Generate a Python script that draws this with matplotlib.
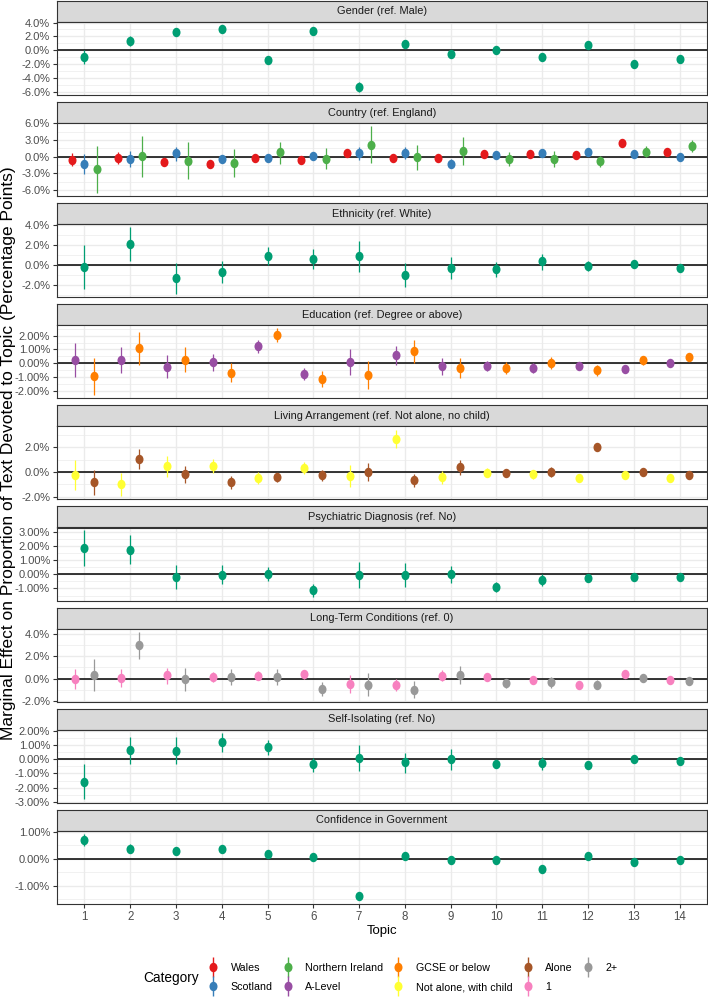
import matplotlib
matplotlib.use("Agg")
import matplotlib.pyplot as plt
from matplotlib.lines import Line2D
from matplotlib.legend_handler import HandlerTuple
from matplotlib.ticker import FixedLocator, FuncFormatter
from matplotlib.path import Path
from matplotlib.transforms import Affine2D

plt.rcParams["font.family"] = ["Liberation Sans", "DejaVu Sans"]

TOPICS = list(range(1, 15))

# -------------------- data (percentage points): estimate, lower, upper
GENDER_EST = [-1.0, 1.3, 2.7, 3.1, -1.45, 2.85, -5.3, 0.95, -0.5, 0.1, -0.9, 0.7, -2.0, -1.25]
GENDER_LO = [-2.0, 0.6, 2.3, 2.6, -1.9, 2.4, -5.95, 0.5, -0.9, -0.3, -1.3, 0.3, -2.4, -1.6]
GENDER_HI = [0.0, 2.0, 3.1, 3.6, -1.0, 3.3, -4.6, 1.4, -0.1, 0.5, -0.5, 1.1, -1.6, -0.9]

WALES_EST = [-0.54, -0.2, -1.0, -1.3, -0.3, -0.6, 0.66, -0.3, -0.3, 0.4, 0.5, 0.24, 2.47, 0.84]
WALES_LO = [-1.7, -1.3, -1.7, -1.8, -0.8, -1.1, -0.06, -0.8, -0.8, -0.1, -0.05, -0.25, 1.85, 0.3]
WALES_HI = [0.6, 0.9, -0.3, -0.9, 0.2, -0.1, 1.3, 0.2, 0.15, 0.9, 1.1, 0.72, 3.1, 1.4]
SCOT_EST = [-1.27, -0.36, 0.7, -0.4, -0.25, 0.2, 0.7, 0.7, -1.27, 0.3, 0.6, 0.84, 0.5, -0.12]
SCOT_LO = [-3.2, -1.9, -0.7, -1.1, -0.8, -0.36, -0.6, -0.36, -2.0, -0.3, -0.1, 0.2, -0.05, -0.55]
SCOT_HI = [0.5, 1.0, 1.8, 0.3, 0.3, 0.65, 1.8, 1.7, -0.5, 0.9, 1.3, 1.45, 1.05, 0.3]
NI_EST = [-2.3, 0.1, -0.8, -1.1, 0.8, -0.35, 2.2, -0.06, 1.0, -0.4, -0.4, -0.8, 0.9, 1.93]
NI_LO = [-6.5, -3.6, -4.1, -3.6, -1.3, -2.3, -1.1, -2.4, -1.5, -1.7, -1.9, -1.8, -0.06, 0.9]
NI_HI = [2.0, 3.7, 2.6, 1.3, 2.7, 1.5, 5.5, 2.2, 3.6, 0.9, 1.1, 0.2, 1.9, 2.95]

ETHN_EST = [-0.2, 2.1, -1.37, -0.77, 0.87, 0.6, 0.83, -1.03, -0.33, -0.43, 0.33, -0.17, 0.1, -0.37]
ETHN_LO = [-2.4, 0.4, -2.93, -1.83, -0.03, -0.43, -0.73, -2.27, -1.47, -1.2, -0.5, -0.67, -0.23, -0.67]
ETHN_HI = [1.93, 3.77, 0.17, 0.33, 1.77, 1.53, 2.37, 0.17, 0.77, 0.27, 1.1, 0.33, 0.43, -0.07]

ALEVEL_EST = [0.22, 0.24, -0.27, 0.1, 1.24, -0.78, 0.12, 0.63, -0.22, -0.22, -0.36, -0.2, -0.44, 0.02]
ALEVEL_LO = [-1.0, -0.68, -1.1, -0.53, 0.73, -1.24, -0.82, -0.1, -0.87, -0.53, -0.73, -0.5, -0.68, -0.22]
ALEVEL_HI = [1.45, 1.16, 0.58, 0.65, 1.72, -0.36, 1.0, 1.28, 0.39, 0.14, 0.0, 0.1, -0.2, 0.24]
GCSE_EST = [-0.95, 1.09, 0.27, -0.7, 2.04, -1.14, -0.82, 0.87, -0.36, -0.34, 0.02, -0.5, 0.2, 0.44]
GCSE_LO = [-2.28, -0.1, -0.63, -1.4, 1.53, -1.75, -1.84, 0.0, -1.1, -0.75, -0.44, -0.9, -0.1, 0.2]
GCSE_HI = [0.39, 2.28, 1.19, 0.0, 2.57, -0.58, 0.19, 1.7, 0.39, 0.07, 0.46, -0.12, 0.5, 0.68]

WITHCHILD_EST = [-0.27, -1.0, 0.46, 0.49, -0.49, 0.3, -0.32, 2.7, -0.43, -0.05, -0.19, -0.46, -0.24, -0.51]
WITHCHILD_LO = [-1.49, -1.95, -0.4, -0.05, -0.95, -0.19, -1.24, 1.97, -0.95, -0.4, -0.57, -0.7, -0.51, -0.73]
WITHCHILD_HI = [0.95, -0.1, 1.3, 1.03, 0.0, 0.78, 0.54, 3.43, 0.05, 0.3, 0.19, -0.22, 0.03, -0.3]
ALONE_EST = [-0.84, 1.05, -0.19, -0.81, -0.43, -0.27, 0.0, -0.65, 0.38, -0.05, 0.0, 2.03, -0.03, -0.27]
ALONE_LO = [-1.84, 0.27, -0.86, -1.35, -0.81, -0.7, -0.73, -1.22, -0.24, -0.32, -0.38, 1.78, -0.3, -0.51]
ALONE_HI = [0.16, 1.84, 0.49, -0.3, -0.05, 0.19, 0.73, -0.16, 0.95, 0.22, 0.38, 2.27, 0.24, -0.03]

PSYCH_EST = [1.86, 1.74, -0.16, -0.02, 0.02, -1.13, -0.07, -0.05, 0.0, -0.89, -0.4, -0.26, -0.16, -0.21]
PSYCH_LO = [0.56, 0.7, -1.06, -0.66, -0.47, -1.6, -0.96, -0.87, -0.64, -1.27, -0.82, -0.52, -0.35, -0.45]
PSYCH_HI = [3.15, 2.78, 0.68, 0.64, 0.52, -0.68, 0.87, 0.8, 0.61, -0.54, 0.0, 0.0, 0.03, 0.02]

LTC1_EST = [0.0, 0.06, 0.3, 0.15, 0.27, 0.42, -0.45, -0.54, 0.27, 0.15, -0.15, -0.57, 0.39, -0.12]
LTC1_LO = [-0.93, -0.78, -0.45, -0.3, -0.12, 0.0, -1.25, -1.07, -0.24, -0.15, -0.51, -0.9, 0.06, -0.39]
LTC1_HI = [0.9, 0.87, 0.99, 0.6, 0.66, 0.81, 0.33, 0.0, 0.75, 0.45, 0.21, -0.24, 0.72, 0.15]
LTC2_EST = [0.33, 2.99, -0.06, 0.18, 0.18, -0.9, -0.54, -0.99, 0.36, -0.42, -0.33, -0.54, 0.06, -0.24]
LTC2_LO = [-1.13, 1.76, -1.13, -0.57, -0.54, -1.52, -1.52, -1.76, -0.45, -0.84, -0.84, -0.93, -0.24, -0.6]
LTC2_HI = [1.79, 4.18, 0.99, 0.87, 0.87, -0.3, 0.51, -0.24, 1.13, 0.0, 0.18, -0.15, 0.36, 0.12]

SELFISO_EST = [-1.61, 0.65, 0.58, 1.19, 0.87, -0.37, 0.09, -0.23, 0.0, -0.33, -0.26, -0.44, 0.0, -0.16]
SELFISO_LO = [-2.8, -0.33, -0.33, 0.51, 0.3, -0.91, -0.84, -0.94, -0.75, -0.63, -0.75, -0.68, -0.23, -0.4]
SELFISO_HI = [-0.37, 1.59, 1.54, 1.85, 1.38, 0.12, 1.0, 0.47, 0.73, -0.03, 0.19, -0.21, 0.23, 0.07]

CONF_EST = [0.68, 0.37, 0.28, 0.35, 0.17, 0.07, -1.38, 0.1, -0.05, -0.06, -0.37, 0.11, -0.14, -0.04]
CONF_LO = [0.46, 0.2, 0.14, 0.21, 0.05, -0.03, -1.52, -0.01, -0.15, -0.17, -0.48, 0.0, -0.25, -0.14]
CONF_HI = [0.91, 0.54, 0.42, 0.49, 0.29, 0.17, -1.24, 0.21, 0.05, 0.05, -0.26, 0.22, -0.03, 0.06]

# -------------------- colours
SINGLE = "#009E73"
COLORS = {
    "Wales": "#E41A1C",
    "Scotland": "#377EB8",
    "Northern Ireland": "#4DAF4A",
    "A-Level": "#984EA3",
    "GCSE or below": "#FF7F00",
    "Not alone, with child": "#FFFF33",
    "Alone": "#A65628",
    "1": "#F781BF",
    "2+": "#999999",
}

# title, series, y ticks, decimals, y limits
PANELS = [
    ("Gender (ref. Male)",
     [(None, GENDER_EST, GENDER_LO, GENDER_HI)],
     [4, 2, 0, -2, -4, -6], 1, (-6.45, 4.08)),
    ("Country (ref. England)",
     [("Wales", WALES_EST, WALES_LO, WALES_HI),
      ("Scotland", SCOT_EST, SCOT_LO, SCOT_HI),
      ("Northern Ireland", NI_EST, NI_LO, NI_HI)],
     [6, 3, 0, -3, -6], 1, (-7.13, 6.07)),
    ("Ethnicity (ref. White)",
     [(None, ETHN_EST, ETHN_LO, ETHN_HI)],
     [4, 2, 0, -2], 1, (-3.25, 4.05)),
    ("Education (ref. Degree or above)",
     [("A-Level", ALEVEL_EST, ALEVEL_LO, ALEVEL_HI),
      ("GCSE or below", GCSE_EST, GCSE_LO, GCSE_HI)],
     [2, 1, 0, -1, -2], 2, (-2.55, 2.76)),
    ("Living Arrangement (ref. Not alone, no child)",
     [("Not alone, with child", WITHCHILD_EST, WITHCHILD_LO, WITHCHILD_HI),
      ("Alone", ALONE_EST, ALONE_LO, ALONE_HI)],
     [2, 0, -2], 1, (-2.22, 3.7)),
    ("Psychiatric Diagnosis (ref. No)",
     [(None, PSYCH_EST, PSYCH_LO, PSYCH_HI)],
     [3, 2, 1, 0, -1], 2, (-1.85, 3.3)),
    ("Long-Term Conditions (ref. 0)",
     [("1", LTC1_EST, LTC1_LO, LTC1_HI),
      ("2+", LTC2_EST, LTC2_LO, LTC2_HI)],
     [4, 2, 0, -2], 1, (-2.06, 4.48)),
    ("Self-Isolating (ref. No)",
     [(None, SELFISO_EST, SELFISO_LO, SELFISO_HI)],
     [2, 1, 0, -1, -2, -3], 2, (-3.05, 2.07)),
    ("Confidence in Government",
     [(None, CONF_EST, CONF_LO, CONF_HI)],
     [1, 0, -1], 2, (-1.67, 1.03)),
]

LEGEND_ORDER = ["Wales", "Scotland", "Northern Ireland", "A-Level", "GCSE or below",
                "Not alone, with child", "Alone", "1", "2+"]

# -------------------- layout (pixels)
W, H = 708, 997
LEFT, RIGHT = 57, 707
STEP, STRIP_H, PANEL_H = 101.1, 21, 73
TXT = "#4D4D4D"
EDGE = "#333333"
GRID = "#EBEBEB"
TICK_FS = 8.0

# slightly tall dot, like the (stretched) original
DOT = Path.unit_circle().transformed(Affine2D().scale(0.85, 1.0))
DOT_MS = 6.8


def fy(px):
    return 1 - px / H


fig = plt.figure(figsize=(W / 100, H / 100), dpi=100)

n = len(PANELS)
for k, (title, series, yticks, dec, ylim) in enumerate(PANELS):
    s_top = 1 + STEP * k
    p_top = s_top + STRIP_H

    # strip
    sax = fig.add_axes([LEFT / W, fy(p_top), (RIGHT - LEFT) / W, STRIP_H / H])
    sax.set_facecolor("#D9D9D9")
    sax.set_xticks([])
    sax.set_yticks([])
    for sp in sax.spines.values():
        sp.set_color(EDGE)
        sp.set_linewidth(0.8)
    sax.text(0.5, 0.5, title, ha="center", va="center", fontsize=7.9,
             color="#1A1A1A", transform=sax.transAxes)

    # panel
    ax = fig.add_axes([LEFT / W, fy(p_top + PANEL_H), (RIGHT - LEFT) / W, PANEL_H / H])
    ax.set_xlim(0.4, 14.6)
    ax.set_ylim(*ylim)
    ax.set_axisbelow(True)
    ax.set_xticks(TOPICS)
    ax.yaxis.set_major_locator(FixedLocator(yticks))
    srt = sorted(yticks)
    step = srt[1] - srt[0]
    minors = [(a + b) / 2 for a, b in zip(srt[:-1], srt[1:])]
    minors += [srt[0] - step / 2, srt[-1] + step / 2]
    ax.yaxis.set_minor_locator(FixedLocator(minors))
    ax.yaxis.set_major_formatter(FuncFormatter(lambda v, p, d=dec: f"{v:.{d}f}%"))
    ax.grid(True, which="major", color=GRID, lw=1.0)
    ax.grid(True, which="minor", axis="y", color=GRID, lw=0.5)
    ax.tick_params(axis="y", which="major", length=2.75, width=0.8, color=EDGE,
                   labelsize=TICK_FS, labelcolor=TXT, pad=2.2)
    ax.tick_params(axis="y", which="minor", length=0)
    if k == n - 1:
        ax.tick_params(axis="x", length=2.75, width=0.8, color=EDGE,
                       labelsize=TICK_FS + 0.3, labelcolor=TXT, pad=2.6)
    else:
        ax.tick_params(axis="x", length=0, labelbottom=False)
    for sp in ax.spines.values():
        sp.set_color(EDGE)
        sp.set_linewidth(0.8)

    ax.axhline(0, color="black", lw=1.1, zorder=1.5)

    m = len(series)
    for i, (name, est, lo, hi) in enumerate(series):
        off = (i - (m - 1) / 2) * 0.8 / m
        xs = [t + off for t in TOPICS]
        c = SINGLE if name is None else COLORS[name]
        ax.vlines(xs, lo, hi, color=c, lw=0.9, zorder=3)
        ax.plot(xs, est, ls="", marker=DOT, color=c, ms=DOT_MS, mec="none", zorder=4)

# axis titles
fig.text(8.5 / W, fy(453), "Marginal Effect on Proportion of Text Devoted to Topic (Percentage Points)",
         rotation=90, ha="center", va="center", fontsize=12.5, color="black")
fig.text((LEFT + RIGHT) / 2 / W, fy(931), "Topic", ha="center", va="center", fontsize=9.5)

# legend
handles = [(Line2D([], [], marker="|", ms=14, mew=1.0, color=COLORS[c], ls=""),
            Line2D([], [], marker=DOT, ms=DOT_MS, mec="none", color=COLORS[c], ls=""))
           for c in LEGEND_ORDER]
fig.text(143 / W, fy(978), "Category", ha="left", va="center", fontsize=9.8)
fig.legend(handles, LEGEND_ORDER, ncol=5, loc="center left",
           bbox_to_anchor=(204.4 / W, fy(977.5)), frameon=False, fontsize=7.7,
           handler_map={tuple: HandlerTuple(ndivide=1)},
           handlelength=1.6, handletextpad=0.85, columnspacing=0.6,
           labelspacing=0.85, borderaxespad=0, borderpad=0)

fig.savefig("out.png", dpi=100)
